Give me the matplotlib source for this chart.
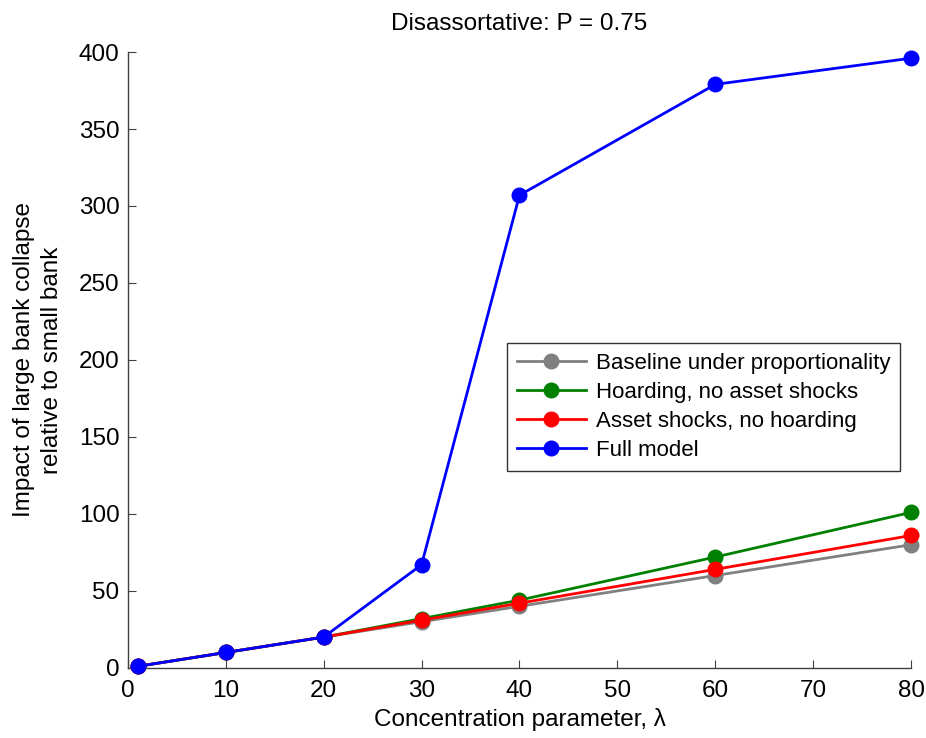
import matplotlib
matplotlib.use("Agg")
import matplotlib.pyplot as plt

plt.rcParams['font.family'] = ['Liberation Sans', 'DejaVu Sans']

lam = [1, 10, 20, 30, 40, 60, 80]
baseline = [1, 10, 20, 30, 40, 60, 80]
hoarding = [1, 10, 20, 32, 44, 72, 101]
asset = [1, 10, 20, 31, 42, 64, 86]
full = [1, 10, 20, 67, 307, 379, 396]

labels = ["Baseline under proportionality", "Hoarding, no asset shocks",
          "Asset shocks, no hoarding", "Full model"]
colors = ["#808080", "#008000", "#ff0000", "#0000ff"]

fig = plt.figure(figsize=(9.26, 7.38), dpi=100)
ax = fig.add_axes([0.138, 0.095, 0.846, 0.8345])

for y, lab, c in zip([baseline, hoarding, asset, full], labels, colors):
    ax.plot(lam, y, '-o', color=c, lw=2.0, ms=10.5, label=lab, clip_on=False, zorder=3)

ax.set_xlim(0, 80)
ax.set_ylim(0, 400)
ax.set_xticks(range(0, 81, 10))
ax.set_yticks(range(0, 401, 50))
for s in ['top', 'right']:
    ax.spines[s].set_visible(False)
for s in ['left', 'bottom']:
    ax.spines[s].set_color('#404040')
    ax.spines[s].set_linewidth(1.0)
ax.tick_params(direction='in', length=6, color='#404040', labelsize=17.5)
ax.tick_params(axis='x', pad=9)
ax.tick_params(axis='y', pad=6)

ax.set_xlabel("Concentration parameter, λ", fontsize=17.5, labelpad=4)
ax.set_ylabel("Impact of large bank collapse\nrelative to small bank", fontsize=17.5,
              labelpad=11, linespacing=1.35)
ax.set_title("Disassortative: P = 0.75", fontsize=17.5, pad=16)

leg = ax.legend(loc='upper left', bbox_to_anchor=(0.484, 0.528), fontsize=16,
                frameon=True, fancybox=False, edgecolor='#333333', framealpha=1,
                handlelength=3.1, borderpad=0.45, labelspacing=0.36, handletextpad=0.45,
                borderaxespad=0)
leg.get_frame().set_linewidth(1.0)

fig.savefig("out.png", dpi=100)
